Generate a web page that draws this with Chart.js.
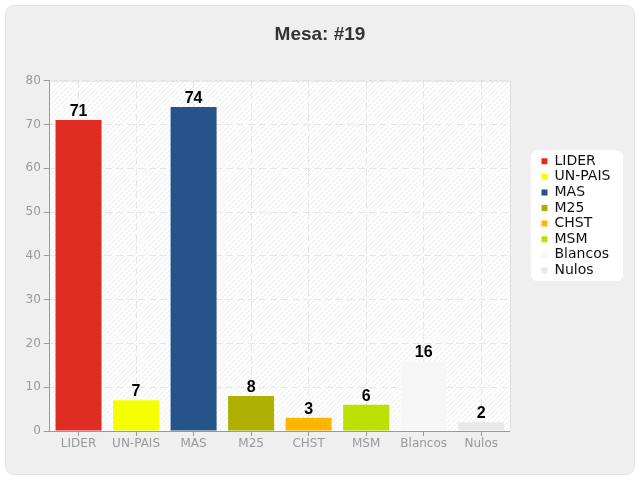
<!DOCTYPE html>
<html>
<head>
<meta charset="utf-8">
<title>Mesa: #19</title>
<script src="https://cdn.jsdelivr.net/npm/chart.js@4.4.1/dist/chart.umd.min.js"></script>
<style>
  html, body { margin: 0; padding: 0; background: #fff; }
  #wrap { width: 640px; height: 480px; }
</style>
</head>
<body>
<div id="wrap"><canvas id="chart" width="640" height="480"></canvas></div>
<script>
// Data
const partidos = ["LIDER", "UN-PAIS", "MAS", "M25", "CHST", "MSM", "Blancos", "Nulos"];
const votos = [71, 7, 74, 8, 3, 6, 16, 2];
const colores = ["#e02d23", "#f5ff00", "#245489", "#afb000", "#ffb600", "#bde000", "#f7f7f7", "#e8e8e8"];
const yTicks = [0, 10, 20, 30, 40, 50, 60, 70, 80];

const tickFont = { family: "'DejaVu Sans', sans-serif", size: 12 };
let hatch = null;

// diagonal hatch used behind the plot
function makeHatch(ctx) {
  const c = document.createElement("canvas");
  c.width = 5;
  c.height = 5;
  const g = c.getContext("2d");
  g.fillStyle = "#fff";
  g.fillRect(0, 0, 5, 5);
  g.strokeStyle = "#ececec";
  g.lineWidth = 1;
  g.beginPath();
  g.moveTo(0, 5); g.lineTo(5, 0);
  g.moveTo(-1, 1); g.lineTo(1, -1);
  g.moveTo(4, 6); g.lineTo(6, 4);
  g.stroke();
  return ctx.createPattern(c, "repeat");
}

// Panel, plot background and legend box
const panel = {
  id: "panel",
  afterLayout(chart) {
    // title centred on the whole canvas
    const tb = chart.titleBlock;
    tb.left = 0;
    tb.right = chart.width;
    tb.width = chart.width;
    // move the legend next to the plot, a bit above centre
    const lg = chart.legend;
    const a = chart.chartArea;
    const dx = a.right + 29.9 - lg.left;
    lg.left += dx;
    lg.right += dx;
    lg.top = a.top + 72;
    lg.bottom = lg.top + lg.height;
  },
  beforeDraw(chart) {
    const { ctx, chartArea: a, width, height } = chart;
    ctx.save();
    ctx.fillStyle = "#efefef";
    ctx.strokeStyle = "#e3e3e3";
    ctx.lineWidth = 1;
    ctx.beginPath();
    ctx.roundRect(5.5, 5.5, width - 11, height - 11, 8);
    ctx.fill();
    ctx.stroke();

    if (!hatch) hatch = makeHatch(ctx);
    ctx.fillStyle = hatch;
    ctx.fillRect(a.left, a.top, a.right - a.left, a.bottom - a.top);

    const boxes = chart.legend.legendHitBoxes;
    if (boxes && boxes.length) {
      const l = Math.min(...boxes.map((b) => b.left));
      const t = Math.min(...boxes.map((b) => b.top));
      const r = Math.max(...boxes.map((b) => b.left + b.width));
      const bt = Math.max(...boxes.map((b) => b.top + b.height));
      ctx.fillStyle = "#fff";
      ctx.beginPath();
      ctx.roundRect(l - 10.5, t - 4, r - l + 23, bt - t + 7.5, 6);
      ctx.fill();
    }
    ctx.restore();
  },
  beforeDatasetsDraw(chart) {
    const { ctx, chartArea: a } = chart;
    ctx.save();
    ctx.strokeStyle = "#e0e0e0";
    ctx.lineWidth = 1;
    ctx.beginPath();
    ctx.moveTo(a.left, a.top + 0.5);
    ctx.lineTo(a.right + 0.5, a.top + 0.5);
    ctx.lineTo(a.right + 0.5, a.bottom);
    ctx.stroke();
    ctx.restore();
  },
};

// Value above each bar
const valueLabels = {
  id: "valueLabels",
  afterDatasetsDraw(chart) {
    const { ctx } = chart;
    const meta = chart.getDatasetMeta(0);
    const data = chart.data.datasets[0].data;
    ctx.save();
    ctx.font = "bold 16px 'Liberation Sans', Arial, sans-serif";
    ctx.fillStyle = "#000";
    ctx.textAlign = "center";
    ctx.textBaseline = "alphabetic";
    meta.data.forEach((bar, i) => {
      ctx.fillText(String(data[i]), bar.x, bar.y - 4);
    });
    ctx.restore();
  },
};

new Chart(document.getElementById("chart"), {
  type: "bar",
  data: {
    labels: partidos,
    datasets: [
      {
        data: votos,
        backgroundColor: colores,
        borderWidth: 0,
        barPercentage: 1,
        categoryPercentage: 0.8,
      },
    ],
  },
  options: {
    responsive: false,
    animation: false,
    devicePixelRatio: 1,
    layout: { padding: { top: 0, left: 22.5, right: 49.5, bottom: 27.6 } },
    plugins: {
      title: {
        display: true,
        text: "Mesa: #19",
        color: "#333",
        font: { family: "'Liberation Sans', Arial, sans-serif", size: 19, weight: "bold" },
        padding: { top: 23.6, bottom: 34.2 },
      },
      legend: {
        position: "right",
        align: "start",
        onClick: null,
        labels: {
          usePointStyle: true,
          pointStyle: "rect",
          boxWidth: 6,
          boxHeight: 6,
          padding: 1.6,
          color: "#111",
          font: { family: "'DejaVu Sans', sans-serif", size: 14 },
          generateLabels: () =>
            partidos.map((p, i) => ({
              text: p,
              fillStyle: colores[i],
              strokeStyle: colores[i],
              lineWidth: 0,
              pointStyle: "rect",
              fontColor: "#111",
              hidden: false,
              index: i,
            })),
        },
      },
      tooltip: { enabled: false },
    },
    scales: {
      x: {
        grid: { color: "#e6e6e6", offset: false, tickLength: 5, tickColor: "#999" },
        border: { color: "#999", dash: [7, 4] },
        ticks: { color: "#999", font: tickFont, padding: 1 },
      },
      y: {
        min: yTicks[0],
        max: yTicks[yTicks.length - 1],
        grid: { color: "#e6e6e6", tickLength: 6, tickColor: "#999" },
        border: { color: "#999", dash: [7, 4] },
        ticks: { color: "#999", font: tickFont, padding: 3, stepSize: yTicks[1] - yTicks[0] },
      },
    },
  },
  plugins: [panel, valueLabels],
});
</script>
</body>
</html>
